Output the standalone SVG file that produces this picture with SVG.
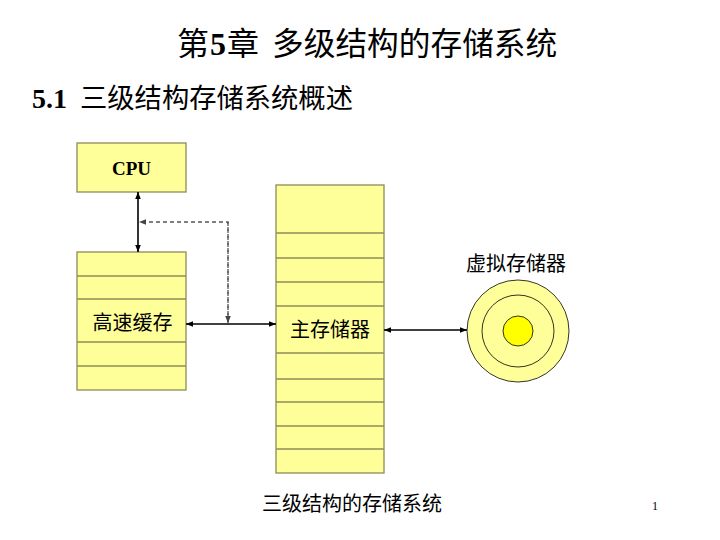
<svg xmlns="http://www.w3.org/2000/svg" width="720" height="540" viewBox="0 0 720 540">
<style>
.box{fill:#FFFF99;stroke:#8C8C5A;stroke-width:1.3}
.sep{stroke:#8C8C5A;stroke-width:1.3}
.cjk{font-family:"Liberation Serif","Noto Sans CJK SC",sans-serif;fill:#000}
.con{stroke:#000;stroke-width:1.6;fill:none}
.dash{stroke:#555;stroke-width:1.3;fill:none;stroke-dasharray:4 3}
.circ{stroke:#000;stroke-width:0.8}
</style>
<defs>
<marker id="ah" viewBox="0 0 10 10" refX="10" refY="5" markerWidth="7" markerHeight="7" markerUnits="userSpaceOnUse" orient="auto-start-reverse">
<path d="M0,1 L10,5 L0,9 Z" fill="#000"/>
</marker>
<marker id="ahg" viewBox="0 0 10 10" refX="10" refY="5" markerWidth="7" markerHeight="7" markerUnits="userSpaceOnUse" orient="auto">
<path d="M0,1 L10,5 L0,9 Z" fill="#444"/>
</marker>
</defs>
<rect width="720" height="540" fill="#fff"/>
<text class="cjk" x="177" y="55" font-size="32" letter-spacing="1">第<tspan font-weight="bold">5</tspan>章</text>
<text class="cjk" x="272" y="55" font-size="31.7">多级结构的存储系统</text>
<text class="cjk" x="32" y="108" font-size="28" font-weight="bold">5.1</text>
<text class="cjk" x="80" y="108" font-size="27.3">三级结构存储系统概述</text>

<g id="cpu">
<rect class="box" x="77" y="143" width="109" height="49"/>
<text x="131.5" y="175" font-family="Liberation Serif, serif" font-weight="bold" font-size="19" text-anchor="middle">CPU</text>
</g>

<g id="cache">
<rect class="box" x="77" y="252" width="109" height="138"/>
<line class="sep" x1="77" y1="276" x2="186" y2="276"/>
<line class="sep" x1="77" y1="299" x2="186" y2="299"/>
<line class="sep" x1="77" y1="342" x2="186" y2="342"/>
<line class="sep" x1="77" y1="366" x2="186" y2="366"/>
<text class="cjk" x="132.5" y="330" font-size="20" text-anchor="middle">高速缓存</text>
</g>

<g id="main">
<rect class="box" x="276" y="185" width="108" height="288"/>
<line class="sep" x1="276" y1="233" x2="384" y2="233"/>
<line class="sep" x1="276" y1="258" x2="384" y2="258"/>
<line class="sep" x1="276" y1="282" x2="384" y2="282"/>
<line class="sep" x1="276" y1="306" x2="384" y2="306"/>
<line class="sep" x1="276" y1="353" x2="384" y2="353"/>
<line class="sep" x1="276" y1="379" x2="384" y2="379"/>
<line class="sep" x1="276" y1="402" x2="384" y2="402"/>
<line class="sep" x1="276" y1="426" x2="384" y2="426"/>
<line class="sep" x1="276" y1="449" x2="384" y2="449"/>
<text class="cjk" x="330" y="337" font-size="20" text-anchor="middle">主存储器</text>
</g>

<g id="virtual">
<circle class="circ" cx="518" cy="331" r="51" fill="#FFFF99"/>
<circle class="circ" cx="518" cy="331" r="36" fill="#FFFF99"/>
<circle class="circ" cx="518" cy="331" r="15" fill="#FFFF00"/>
<text class="cjk" x="516" y="271" font-size="20" text-anchor="middle">虚拟存储器</text>
</g>

<g id="connectors">
<line class="con" x1="138" y1="192" x2="138" y2="252" marker-start="url(#ah)" marker-end="url(#ah)"/>
<line class="con" x1="186" y1="324" x2="276" y2="324" marker-start="url(#ah)" marker-end="url(#ah)"/>
<line class="con" x1="384" y1="330" x2="467" y2="330" marker-start="url(#ah)" marker-end="url(#ah)"/>
<polyline class="dash" points="228,322 228,222 139,222" marker-end="url(#ahg)"/>
<polyline class="dash" points="228,222 228,323" marker-end="url(#ahg)"/>
</g>

<text class="cjk" x="262" y="511" font-size="20">三级结构的存储系统</text>
<text x="655" y="510" font-family="Liberation Serif, serif" font-size="12" text-anchor="middle">1</text>
</svg>
